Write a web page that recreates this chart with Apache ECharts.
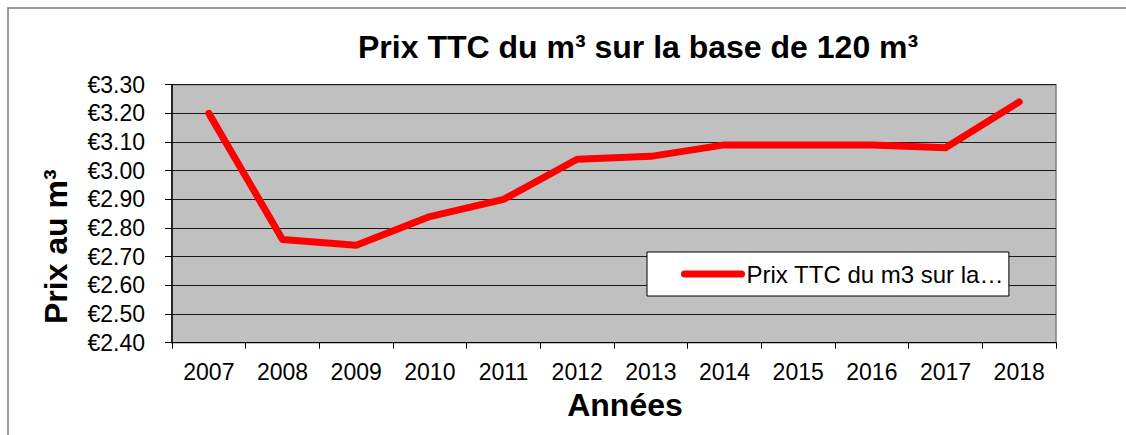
<!DOCTYPE html>
<html>
<head>
<meta charset="utf-8">
<script src="https://cdn.jsdelivr.net/npm/echarts@6/dist/echarts.min.js"></script>
<style>
  html, body { margin: 0; padding: 0; background: #fff; }
  #container { width: 1126px; height: 435px; }
</style>
</head>
<body>
<div id="container"></div>
<script>
  // data
  const years = ['2007', '2008', '2009', '2010', '2011', '2012', '2013', '2014', '2015', '2016', '2017', '2018'];
  const prices = [3.20, 2.76, 2.74, 2.84, 2.90, 3.04, 3.05, 3.09, 3.09, 3.09, 3.08, 3.24];
  const seriesName = 'Prix TTC du m3 sur la base de 120 m3';
  const yMin = 2.4, yMax = 3.3, yStep = 0.1;

  const font = '"Liberation Sans", Arial, sans-serif';

  const chart = echarts.init(document.getElementById('container'), null, { renderer: 'svg' });

  chart.setOption({
    animation: false,
    backgroundColor: '#fff',
    textStyle: { fontFamily: font },
    graphic: [{
      type: 'rect',
      shape: { x: 8, y: 8, width: 1300, height: 600 },
      style: { fill: 'none', stroke: '#7a7a7a', lineWidth: 1.5 },
      silent: true
    }],
    title: {
      text: 'Prix TTC du m³ sur la base de 120 m³',
      left: 358,
      top: 31,
      padding: 0,
      textStyle: { fontFamily: font, fontSize: 32, fontWeight: 'bold', color: '#000' }
    },
    legend: {
      show: true,
      left: 647,
      top: 252,
      padding: [10, 5, 10, 34],
      backgroundColor: '#fff',
      borderColor: '#000',
      borderWidth: 1,
      itemWidth: 57,
      itemHeight: 14,
      itemStyle: { opacity: 0 },
      lineStyle: { width: 7, cap: 'round' },
      textStyle: {
        fontFamily: font, fontSize: 24, color: '#000',
        width: 262, overflow: 'truncate', ellipsis: '…'
      }
    },
    grid: {
      left: 172,
      right: 70,
      top: 84.7,
      bottom: 92.3,
      show: true,
      backgroundColor: '#c0c0c0',
      borderColor: '#808080',
      borderWidth: 1.5
    },
    xAxis: {
      type: 'category',
      data: years,
      boundaryGap: true,
      name: 'Années',
      nameLocation: 'middle',
      nameGap: 44,
      nameTextStyle: {
        fontFamily: font, fontSize: 32, fontWeight: 'bold', color: '#000',
        padding: [0, 0, 0, 22]
      },
      axisLine: { lineStyle: { color: '#000', width: 1 } },
      axisTick: { show: true, length: 6, lineStyle: { color: '#000' } },
      axisLabel: { fontFamily: font, fontSize: 23, color: '#000', margin: 18 },
      splitLine: { show: false }
    },
    yAxis: {
      type: 'value',
      min: yMin,
      max: yMax,
      interval: yStep,
      name: 'Prix au m³',
      nameLocation: 'middle',
      nameRotate: 90,
      nameGap: 100,
      nameTextStyle: {
        fontFamily: font, fontSize: 32, fontWeight: 'bold', color: '#000',
        padding: [0, 66, 0, 0]
      },
      axisLine: { show: true, lineStyle: { color: '#000', width: 1.5 } },
      axisTick: { show: true, length: 7, lineStyle: { color: '#000' } },
      axisLabel: {
        fontFamily: font, fontSize: 23, color: '#000', margin: 27,
        formatter: v => '€' + v.toFixed(2)
      },
      splitLine: { show: true, lineStyle: { color: '#1a1a1a', width: 1 } }
    },
    series: [{
      name: seriesName,
      type: 'line',
      data: prices,
      symbol: 'none',
      lineStyle: { color: '#ff0000', width: 7, cap: 'round', join: 'round' },
      itemStyle: { color: '#ff0000' }
    }]
  });
</script>
</body>
</html>
